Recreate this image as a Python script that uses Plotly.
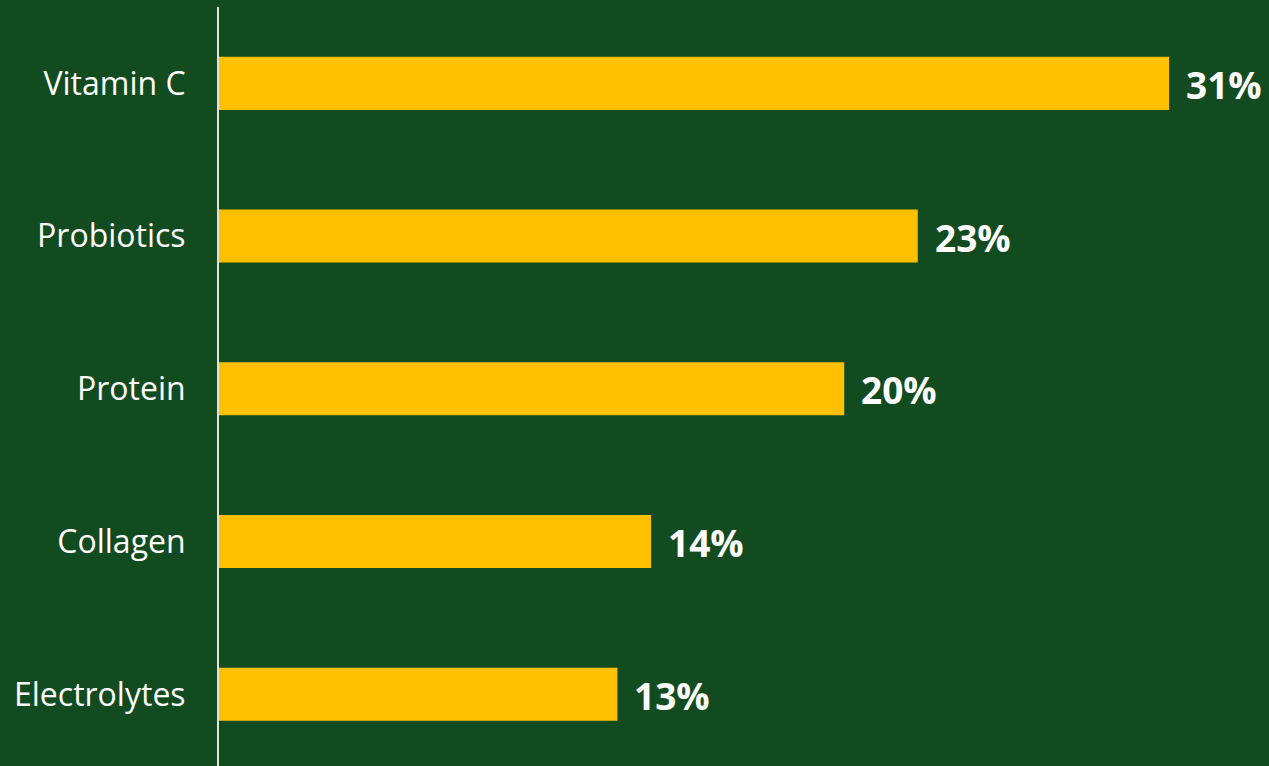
import plotly.graph_objects as go

categories = ["Vitamin C", "Probiotics", "Protein", "Collagen", "Electrolytes"]
values = [31, 22.8, 20.4, 14.1, 13.0]
value_labels = ["31%", "23%", "20%", "14%", "13%"]

bg = "#134B21"
bar_color = "#FFC000"

fig = go.Figure()
fig.add_trace(go.Bar(
    x=values, y=categories, orientation="h",
    marker=dict(color=bar_color, line=dict(width=0)),
    width=0.347, hoverinfo="skip",
))
for c, v, t in zip(categories, values, value_labels):
    fig.add_annotation(x=v, y=c, text=t, showarrow=False, xanchor="left",
                       xshift=15, yshift=-1,
                       font=dict(family="Open Sans", size=37, color="white", weight="bold"))

fig.update_layout(
    width=1269, height=766,
    margin=dict(l=219, r=0, t=7, b=0),
    paper_bgcolor=bg, plot_bgcolor=bg,
    showlegend=False,
    xaxis=dict(range=[0, 34.26], visible=False, showgrid=False, zeroline=False),
    yaxis=dict(
        categoryorder="array", categoryarray=categories,
        range=[4.469, -0.5],
        showline=True, linecolor="#E0E0E0", linewidth=2,
        showgrid=False, zeroline=False,
        ticks="", ticklabelstandoff=25,
        tickfont=dict(family="Open Sans", size=32, color="white"),
    ),
)
fig.write_html("out.html")
